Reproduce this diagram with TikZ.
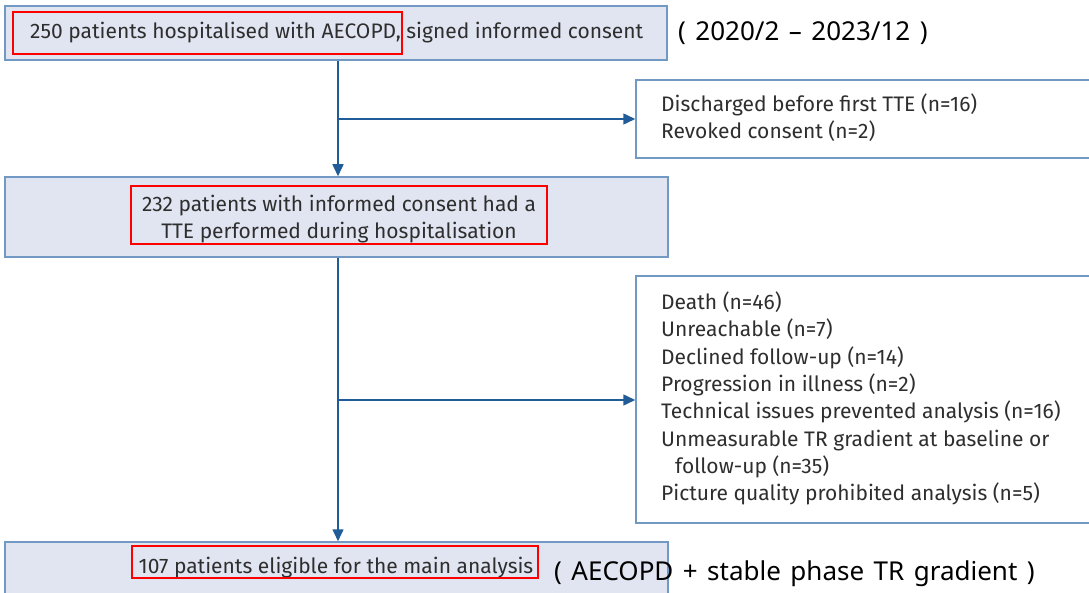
\documentclass[tikz,border=0pt]{standalone}
\usepackage{fontspec}
\setmainfont{Fira Sans}
\newfontfamily\annfont[WordSpace=1.4]{Noto Sans}
\usetikzlibrary{arrows.meta}
\definecolor{boxfill}{HTML}{E1E5F1}
\definecolor{boxedge}{HTML}{7299C4}
\definecolor{arrowc}{HTML}{1F5C98}
\definecolor{txt}{HTML}{2E2E2E}
\definecolor{hl}{HTML}{FF0000}
\tikzset{
  mainbox/.style={draw=boxedge, line width=1.5pt, fill=boxfill, rectangle, inner sep=0pt},
  sidebox/.style={draw=boxedge, line width=1.5pt, fill=white, rectangle, inner sep=0pt},
  hlbox/.style={draw=hl, line width=2.5pt, rectangle, inner sep=0pt},
  flow/.style={draw=arrowc, line width=1.5pt, -{Triangle[length=12pt,width=11pt]}},
  trunk/.style={draw=arrowc, line width=1.5pt},
  bt/.style={font=\fontsize{21}{27.3}\selectfont, text=txt, inner sep=0pt},
  ann/.style={font=\annfont\fontsize{26}{30}\selectfont, text=black, inner sep=0pt, anchor=west}
}
\begin{document}
\begin{tikzpicture}[x=1pt,y=-1pt]
\useasboundingbox (0,0) rectangle (1089,593);
% main boxes
\node[mainbox, minimum width=662pt, minimum height=54pt] (b1) at (336,33) {};
\node[mainbox, minimum width=663pt, minimum height=80pt] (b2) at (336.5,217) {};
\node[mainbox, minimum width=663pt, minimum height=70pt] (b3) at (336.5,577) {};
% side boxes
\node[sidebox, minimum width=458pt, minimum height=78pt] (s1) at (865,119) {};
\node[sidebox, minimum width=458pt, minimum height=247pt] (s2) at (865,399.5) {};
% texts
\node[bt, anchor=west] (t1) at (30,33) {250 patients hospitalised with AECOPD, signed informed consent};
\node[bt, align=center] (t2) at (339,219) {232 patients with informed consent had a\\TTE performed during hospitalisation};
\node[bt] (t3) at (336,568) {107 patients eligible for the main analysis};
\node[bt, anchor=west, align=left] (ts1) at (661,118) {Discharged before first TTE (n=16)\\Revoked consent (n=2)};
\node[bt, anchor=west, align=left] (ts2) at (661,398.5) {Death (n=46)\\Unreachable (n=7)\\Declined follow-up (n=14)\\Progression in illness (n=2)\\Technical issues prevented analysis (n=16)\\Unmeasurable TR gradient at baseline or\\\hspace*{14pt}follow-up (n=35)\\Picture quality prohibited analysis (n=5)};
% highlight boxes
\node[hlbox, minimum width=389pt, minimum height=42pt] (r1) at (207.5,33) {};
\node[hlbox, minimum width=416pt, minimum height=58pt] (r2) at (339,215) {};
\node[hlbox, minimum width=406pt, minimum height=32pt] (r3) at (335,562) {};
% annotations
\node[ann] (a1) at (678,33) {( 2020/2 – 2023/12 )};
\node[ann] (a2) at (554,574) {( AECOPD + stable phase TR gradient )};
% connectors
\coordinate (j1) at (338,119);
\coordinate (j2) at (338,400);
\draw[trunk] (b1.south -| j1) -- (j1);
\draw[flow] (j1) -- (b2.north -| j1);
\draw[flow] (j1) -- (s1.west |- j1);
\draw[trunk] (b2.south -| j2) -- (j2);
\draw[flow] (j2) -- (b3.north -| j2);
\draw[flow] (j2) -- (s2.west |- j2);
\end{tikzpicture}
\end{document}
